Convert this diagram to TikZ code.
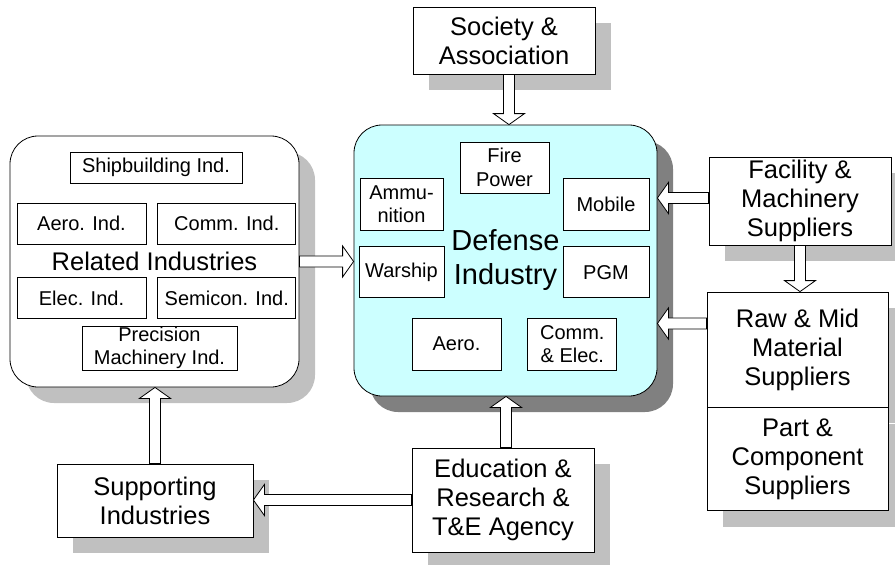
\documentclass[tikz,border=0pt]{standalone}
\usepackage{fontspec}
\setmainfont{Liberation Sans}
\usetikzlibrary{positioning,shadows,calc}

\definecolor{defcyan}{RGB}{204,255,255}
\definecolor{shadelight}{RGB}{192,192,192}
\definecolor{shadedark}{RGB}{128,128,128}

\tikzset{
  box/.style={draw, fill=white, line width=0.8pt, align=center, inner sep=0pt,
    font=\fontsize{25.5}{29}\selectfont},
  unit/.style={draw, fill=white, line width=0.8pt, align=center, inner sep=0pt,
    font=\fontsize{20}{23.5}\selectfont},
  groupbox/.style={draw, line width=0.8pt, rounded corners=28pt, align=center, inner sep=0pt},
  boxshadow/.style={drop shadow={shadow xshift=16pt, shadow yshift=-16pt, opacity=1, fill=shadelight}},
  bigarrow/.style={draw, fill=white, line width=0.8pt, to path={
    let \p1=(\tikztostart), \p2=(\tikztotarget), \p3=($(\p2)!11pt!(\p1)$) in
    ($(\p1)!5.5pt!90:(\p2)$) -- ($(\p3)!5.5pt!90:(\p2)$) -- ($(\p3)!15.5pt!90:(\p2)$)
    -- (\p2) -- ($(\p3)!15.5pt!-90:(\p2)$) -- ($(\p3)!5.5pt!-90:(\p2)$)
    -- ($(\p1)!5.5pt!-90:(\p2)$) -- cycle}}
}

\begin{document}
\begin{tikzpicture}[x=1pt, y=-1pt]
    \useasboundingbox[fill=white] (0,0) rectangle (895,565);
    % main blocks
    \node[box, boxshadow, minimum width=182pt, minimum height=67pt] (soc) at (504,40.5) {Society \&\\Association};
    \node[groupbox, fill=white, boxshadow, minimum width=289pt, minimum height=251pt,
      font=\fontsize{25.5}{29}\selectfont] (rel) at (154.5,261.5) {Related Industries};
    \node[groupbox, fill=defcyan, drop shadow={shadow xshift=16pt, shadow yshift=-16pt, opacity=1, fill=shadedark},
      minimum width=303pt, minimum height=271pt, font=\fontsize{29}{34}\selectfont] (def) at (505.5,260.5) {Defense\\Industry};
    \node[box, boxshadow, minimum width=182pt, minimum height=88pt] (fac) at (800,201) {Facility \&\\Machinery\\Suppliers};
    \node[box, boxshadow, minimum width=181pt, minimum height=115pt] (raw) at (797.5,349.5) {Raw \& Mid\\Material\\Suppliers};
    \node[box, boxshadow, minimum width=181pt, minimum height=103pt, below=0pt of raw] (part) {Part \&\\Component\\Suppliers};
    \node[box, boxshadow, minimum width=182pt, minimum height=104pt] (edu) at (503,500) {Education \&\\Research \&\\T\&E Agency};
    \node[box, boxshadow, minimum width=196pt, minimum height=73pt] (sup) at (155,500.5) {Supporting\\Industries};

    % related industries
    \node[unit, minimum width=172pt, minimum height=31pt] (ship) at (156,167.5) {Shipbuilding Ind.};
    \node[unit, minimum width=129pt, minimum height=41pt] (aeroind) at (81.5,223.5) {Aero. Ind.};
    \node[unit, minimum width=138pt, minimum height=41pt, right=11pt of aeroind] (commind) {Comm. Ind.};
    \node[unit, minimum width=129pt, minimum height=41pt, below=33pt of aeroind] (elecind) {Elec. Ind.};
    \node[unit, minimum width=138pt, minimum height=41pt, below=33pt of commind] (semiind) {Semicon. Ind.};
    \node[unit, minimum width=155pt, minimum height=44pt] (prec) at (159.5,348) {Precision\\Machinery Ind.};

    % defense industry
    \node[unit, minimum width=89pt, minimum height=51pt] (fire) at (504.5,167.5) {Fire\\Power};
    \node[unit, minimum width=83pt, minimum height=52pt] (ammu) at (401.5,204) {Ammu-\\nition};
    \node[unit, minimum width=86pt, minimum height=52pt] (mobile) at (606,204) {Mobile};
    \node[unit, minimum width=85pt, minimum height=51pt, below=16pt of ammu] (warship) {Warship};
    \node[unit, minimum width=86pt, minimum height=51pt, below=16pt of mobile] (pgm) {PGM};
    \node[unit, minimum width=89pt, minimum height=52pt] (aero) at (456.5,344) {Aero.};
    \node[unit, minimum width=89pt, minimum height=52pt, right=26pt of aero] (commelec) {Comm.\\\& Elec.};

    % flows
    \coordinate (a1) at ([xshift=5pt]soc.south);
    \coordinate (a2) at ([yshift=3pt]fac.west);
    \coordinate (a3) at ([yshift=26pt]raw.west);
    \coordinate (a4) at ([xshift=3pt]edu.north);
    \draw[bigarrow] (a1) to (a1 |- def.north);
    \draw[bigarrow] (rel.east) to (rel.east -| def.west);
    \draw[bigarrow] (a2) to (a2 -| def.east);
    \draw[bigarrow] (a3) to (a3 -| def.east);
    \draw[bigarrow] (fac.south) to (fac.south |- raw.north);
    \draw[bigarrow] (a4) to (a4 |- def.south);
    \draw[bigarrow] (edu.west) to (edu.west -| sup.east);
    \draw[bigarrow] (sup.north) to (sup.north |- rel.south);
\end{tikzpicture}
\end{document}
